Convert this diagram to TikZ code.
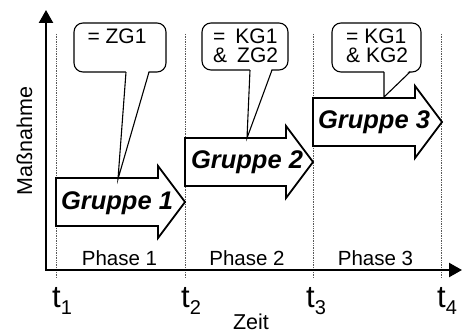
\documentclass[tikz,border=0pt]{standalone}
\usepackage{fontspec}
\setmainfont{Liberation Sans}
\usetikzlibrary{arrows.meta}
\begin{document}
\begin{tikzpicture}[x=1pt,y=-1pt,
  axis/.style={line width=2.4pt,
    {Triangle[length=13pt,width=14pt]}-{Triangle[length=13pt,width=14pt]}},
  guide/.style={densely dotted, black!65, line width=0.7pt},
  grouparrow/.style={draw=black, fill=white, line width=1.8pt, line join=miter},
  grouplabel/.style={font=\fontsize{25.5}{28}\selectfont\bfseries\itshape,
    anchor=base, inner sep=0pt},
  bubblebox/.style={draw=black, fill=white, line width=1.1pt, rounded corners=9pt,
    inner sep=0pt, outer sep=0pt},
  bubbleline/.style={draw=black, line width=1.1pt, line join=miter},
  bubbletext/.style={font=\fontsize{21}{22}\selectfont, inner sep=0pt},
  phase/.style={font=\fontsize{20.5}{24}\selectfont, anchor=base, inner sep=0pt},
  tick/.style={font=\fontsize{31}{32}\selectfont, anchor=base west, inner sep=0pt},
  axislabel/.style={font=\fontsize{21.5}{24}\selectfont, anchor=base, inner sep=0pt},
]
\useasboundingbox (0,0) rectangle (462,334);

% phase boundaries
\foreach \gx in {56,185,313,441}
  \draw[guide] (\gx,34) -- (\gx,278);

% axes
\coordinate (ytop) at (46,10);
\coordinate (origin) at (46,270);
\coordinate (xend) at (462,270);
\draw[axis] (ytop) -- (origin) -- (xend);

% group arrows
\draw[grouparrow] (56,178) -- (158,178) -- (158,166) -- (185,202)
  -- (158,238) -- (158,226) -- (56,226) -- cycle;
\draw[grouparrow] (185,138) -- (286,138) -- (286,126) -- (313,162)
  -- (286,198) -- (286,186) -- (185,186) -- cycle;
\draw[grouparrow] (313,98) -- (415,98) -- (415,86) -- (442,122)
  -- (415,158) -- (415,146) -- (313,146) -- cycle;
\node[grouplabel] (g1) at (117,209) {Gruppe 1};
\node[grouplabel] (g2) at (247,168) {Gruppe 2};
\node[grouplabel] (g3) at (374,128) {Gruppe 3};

% speech bubbles
\node[bubblebox, minimum width=92pt, minimum height=49pt] (b1) at (120,47.5) {};
\node[bubblebox, minimum width=86pt, minimum height=47pt] (b2) at (245,46.5) {};
\node[bubblebox, minimum width=89pt, minimum height=49pt] (b3) at (376.5,47.5) {};

\coordinate (p1) at (118,179);
\coordinate (p2) at (247,138);
\coordinate (p3) at (384,97);

\fill[white] (126,70) -- (149,70) -- (p1) -- cycle;
\draw[bubbleline] (126,72) -- (p1) -- (149,72);
\fill[white] (250,68) -- (272,68) -- (p2) -- cycle;
\draw[bubbleline] (250,70) -- (p2) -- (272,70);
\fill[white] (384,70) -- (410,70) -- (p3) -- cycle;
\draw[bubbleline] (384,72) -- (p3) -- (410,72);

\node[bubbletext, anchor=base] (t1a) at (117,44) {= ZG1};
\node[bubbletext, anchor=base west] (t2a) at (213,44) {=\hspace{10pt}KG1};
\node[bubbletext, anchor=base west] (t2b) at (213,63) {\&\hspace{10pt}ZG2};
\node[bubbletext, anchor=base west] (t3a) at (346,44) {= KG1};
\node[bubbletext, anchor=base west] (t3b) at (346,63) {\& KG2};

% phase names
\node[phase] (ph1) at (119.5,265) {Phase 1};
\node[phase] (ph2) at (247,265) {Phase 2};
\node[phase] (ph3) at (375.5,265) {Phase 3};

% time marks
\newcommand\tmark[1]{t\raisebox{-7pt}{\fontsize{20}{20}\selectfont #1}}
\node[tick] (tm1) at (52,307) {\tmark{1}};
\node[tick] (tm2) at (181,307) {\tmark{2}};
\node[tick] (tm3) at (306,307) {\tmark{3}};
\node[tick] (tm4) at (437,307) {\tmark{4}};

% axis titles
\node[axislabel] (zeit) at (251,329) {Zeit};
\node[axislabel, rotate=90] (mass) at (32,141) {Maßnahme};
\end{tikzpicture}
\end{document}
